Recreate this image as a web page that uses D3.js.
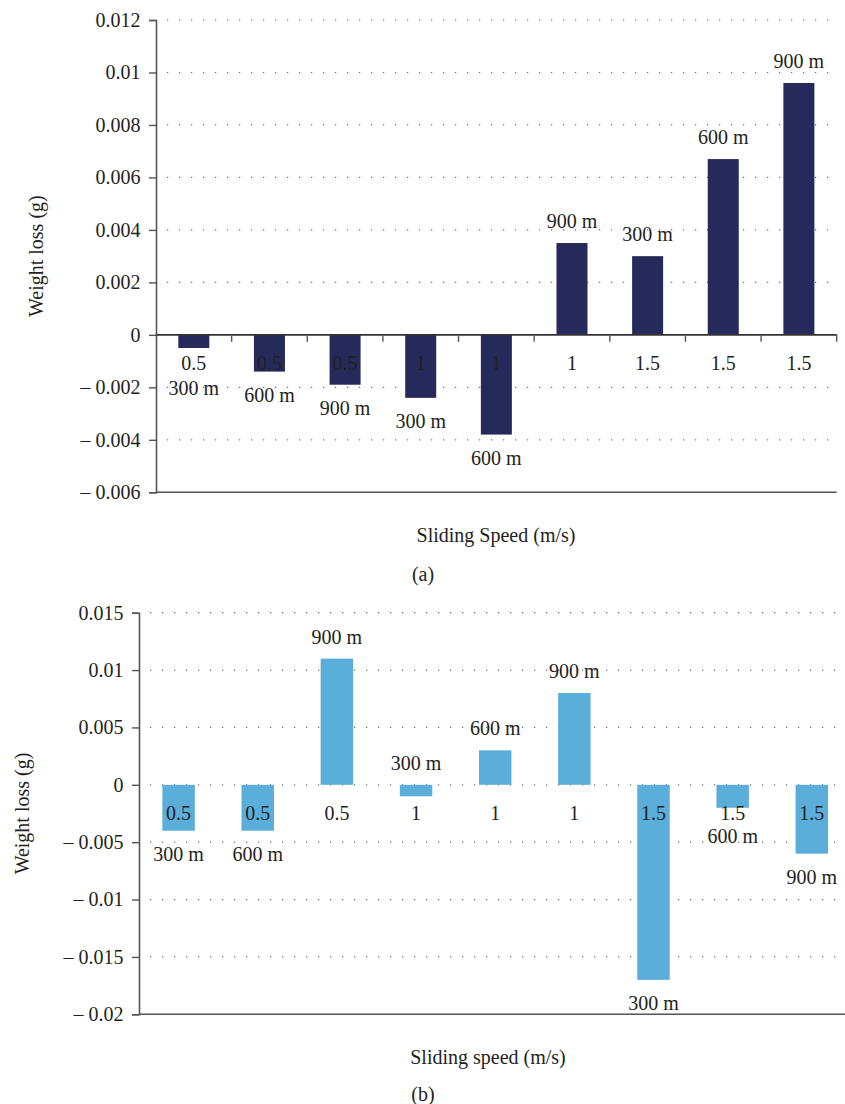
<!DOCTYPE html>
<html>
<head>
<meta charset="utf-8">
<script src="https://cdn.jsdelivr.net/npm/d3@7"></script>
<style>
  html, body { margin: 0; padding: 0; background: #fff; }
  svg { display: block; }
  text { font-family: "Liberation Serif", "Times New Roman", serif; fill: #231f20; }
</style>
</head>
<body>
<svg id="fig" width="845" height="1104"></svg>
<script>
// Categories: sliding speed (m/s) and sliding distance for each bar
const speeds = ["0.5", "0.5", "0.5", "1", "1", "1", "1.5", "1.5", "1.5"];
const distances = ["300 m", "600 m", "900 m", "300 m", "600 m", "900 m", "300 m", "600 m", "900 m"];

// Weight loss (g), panel (a) and panel (b)
const weightLossA = [-0.0005, -0.0014, -0.0019, -0.0024, -0.0038, 0.0035, 0.003, 0.0067, 0.0096];
const weightLossB = [-0.004, -0.004, 0.011, -0.001, 0.003, 0.008, -0.017, -0.002, -0.006];

// Y tick values and labels
const ticksA = [-0.006, -0.004, -0.002, 0, 0.002, 0.004, 0.006, 0.008, 0.01, 0.012];
const tickLabelsA = ["\u2013 0.006", "\u2013 0.004", "\u2013 0.002", "0", "0.002", "0.004", "0.006", "0.008", "0.01", "0.012"];
const ticksB = [-0.02, -0.015, -0.01, -0.005, 0, 0.005, 0.01, 0.015];
const tickLabelsB = ["\u2013 0.02", "\u2013 0.015", "\u2013 0.01", "\u2013 0.005", "0", "0.005", "0.01", "0.015"];

const svg = d3.select("#fig");
const FONT = 20;
const FAMILY = "'Liberation Serif', 'Times New Roman', serif";
const AXIS = "#555";

function panel(cfg) {
  const g = svg.append("g").attr("font-family", FAMILY);
  const y = d3.scaleLinear().domain(cfg.domain).range([cfg.bottom, cfg.top]);
  const x = d3.scaleBand().domain(d3.range(cfg.values.length))
    .range([cfg.left, cfg.right]).paddingInner(0.59).paddingOuter(0.295);
  const y0 = y(0);

  // dotted gridlines
  g.append("g").selectAll("line")
    .data(cfg.ticks.filter(t => t !== cfg.domain[0] && (cfg.zeroGrid || t !== 0)))
    .join("line")
    .attr("x1", cfg.left + 11).attr("x2", cfg.gridEnd)
    .attr("y1", d => y(d)).attr("y2", d => y(d))
    .attr("stroke", "#6b6b6b").attr("stroke-width", 1.2)
    .attr("stroke-dasharray", "1.2,10.8");

  // bars
  g.append("g").selectAll("rect")
    .data(cfg.values)
    .join("rect")
    .attr("x", (d, i) => x(i))
    .attr("width", x.bandwidth())
    .attr("y", d => Math.min(y(d), y0))
    .attr("height", d => Math.abs(y(d) - y0))
    .attr("fill", cfg.color);

  // y axis
  const yAxis = d3.axisLeft(y).tickValues(cfg.ticks)
    .tickFormat((d, i) => cfg.tickLabels[i]).tickSize(7).tickPadding(8.5);
  const ya = g.append("g").attr("transform", `translate(${cfg.left},0)`).call(yAxis)
    .attr("font-family", FAMILY).attr("font-size", FONT);
  ya.select(".domain").attr("stroke", AXIS).attr("stroke-width", 1.6);
  ya.selectAll(".tick line").attr("stroke", AXIS).attr("stroke-width", 1.4);
  ya.selectAll(".tick text").attr("fill", "#231f20");

  // bottom border line
  g.append("line")
    .attr("x1", cfg.left).attr("x2", cfg.bottomEnd)
    .attr("y1", cfg.bottom).attr("y2", cfg.bottom)
    .attr("stroke", AXIS).attr("stroke-width", 1.6);

  // category axis at zero with boundary ticks
  if (cfg.zeroAxis) {
    const step = x.step();
    const bounds = d3.range(cfg.values.length + 1).map(i => x(0) - (step - x.bandwidth()) / 2 + i * step);
    g.append("line")
      .attr("x1", cfg.left).attr("x2", cfg.right)
      .attr("y1", y0).attr("y2", y0)
      .attr("stroke", "#333").attr("stroke-width", 1.6);
    g.append("g").selectAll("line").data(bounds.slice(1)).join("line")
      .attr("x1", d => d).attr("x2", d => d)
      .attr("y1", y0).attr("y2", y0 + 7)
      .attr("stroke", AXIS).attr("stroke-width", 1.4);
  }

  // speed labels under the zero line
  const catY = y0 + 27.7;
  g.append("g").selectAll("text").data(speeds).join("text")
    .attr("x", (d, i) => x(i) + x.bandwidth() / 2)
    .attr("y", catY)
    .attr("text-anchor", "middle").attr("dominant-baseline", "central")
    .attr("font-size", FONT)
    .text(d => d);

  // distance labels at the bar end, kept clear of the speed labels
  g.append("g").selectAll("text").data(cfg.values).join("text")
    .attr("x", (d, i) => x(i) + x.bandwidth() / 2)
    .attr("y", d => {
      let ly = d >= 0 ? y(d) - 22 : y(d) + 23;
      if (d < 0) {
        const gap = Math.abs(ly - catY);
        if (gap < 16) ly = cfg.avoid === "below" ? catY + 25.5 : y0 - 22;
        else if (gap < 23) ly = catY + 23;
      }
      return ly;
    })
    .attr("text-anchor", "middle").attr("dominant-baseline", "central")
    .attr("font-size", FONT)
    .text((d, i) => distances[i]);

  // axis titles
  g.append("text")
    .attr("transform", `translate(${cfg.yTitleX},${(cfg.top + cfg.bottom) / 2}) rotate(-90)`)
    .attr("text-anchor", "middle").attr("dominant-baseline", "central")
    .attr("font-size", FONT)
    .text("Weight loss (g)");
  g.append("text")
    .attr("x", (cfg.left + cfg.gridEnd) / 2).attr("y", cfg.xTitleY)
    .attr("text-anchor", "middle").attr("dominant-baseline", "central")
    .attr("font-size", FONT)
    .text(cfg.xTitle);
  g.append("text")
    .attr("x", 423).attr("y", cfg.captionY)
    .attr("text-anchor", "middle").attr("dominant-baseline", "central")
    .attr("font-size", FONT)
    .text(cfg.caption);
}

panel({
  values: weightLossA, ticks: ticksA, tickLabels: tickLabelsA,
  domain: [-0.006, 0.012], top: 20, bottom: 492.3, left: 156, right: 836.7,
  gridEnd: 836, bottomEnd: 836.7, color: "#262a5a",
  zeroAxis: true, zeroGrid: false, avoid: "below",
  yTitleX: 36, xTitle: "Sliding Speed (m/s)", xTitleY: 535, caption: "(a)", captionY: 574
});

panel({
  values: weightLossB, ticks: ticksB, tickLabels: tickLabelsB,
  domain: [-0.02, 0.015], top: 612.7, bottom: 1014.3, left: 139, right: 851.4,
  gridEnd: 837, bottomEnd: 845, color: "#5badda",
  zeroAxis: false, zeroGrid: true, avoid: "above",
  yTitleX: 22, xTitle: "Sliding speed (m/s)", xTitleY: 1056.5, caption: "(b)", captionY: 1094
});
</script>
</body>
</html>
